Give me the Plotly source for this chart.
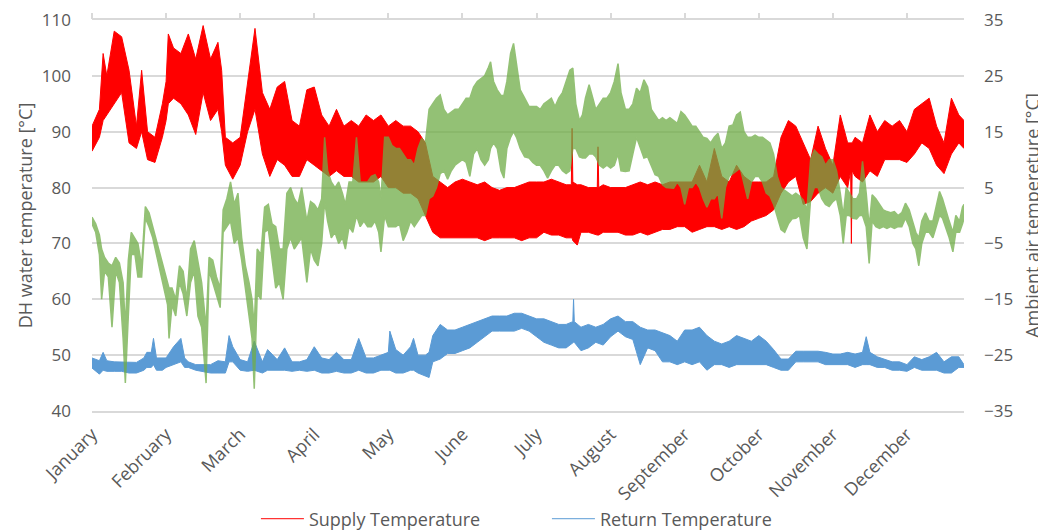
import plotly.graph_objects as go

months = ["January", "February", "March", "April", "May", "June", "July",
          "August", "September", "October", "November", "December"]
month_pos = list(range(12))
x_end = 11.77

# Supply temperature (left axis, degC): band read as upper / lower envelope
supply_x = [0.0, 0.1, 0.15, 0.2, 0.3, 0.4, 0.5, 0.6, 0.67, 0.75, 0.85, 0.95,
            1.0, 1.03, 1.1, 1.2, 1.3, 1.4, 1.5, 1.6, 1.7, 1.75, 1.8, 1.9,
            2.0, 2.1, 2.2, 2.3, 2.4, 2.5, 2.6, 2.7, 2.8, 2.9,
            3.0, 3.1, 3.2, 3.3, 3.4, 3.5, 3.6, 3.7, 3.8, 3.9,
            4.0, 4.1, 4.2, 4.3, 4.4, 4.5, 4.6, 4.7, 4.8, 4.9,
            5.0, 5.1, 5.2, 5.3, 5.4, 5.5, 5.6, 5.7, 5.8, 5.9,
            6.0, 6.1, 6.2, 6.3, 6.4, 6.47, 6.48, 6.49, 6.55, 6.6, 6.7, 6.82, 6.83, 6.84, 6.9,
            7.0, 7.1, 7.2, 7.3, 7.4, 7.5, 7.6, 7.7, 7.8, 7.9,
            8.0, 8.1, 8.2, 8.3, 8.4, 8.5, 8.6, 8.7, 8.8, 8.9,
            9.0, 9.1, 9.2, 9.3, 9.4, 9.5, 9.6, 9.7, 9.8, 9.9,
            10.0, 10.1, 10.2, 10.24, 10.25, 10.26, 10.3, 10.4, 10.5, 10.6, 10.7, 10.8, 10.9,
            11.0, 11.1, 11.2, 11.3, 11.4, 11.5, 11.6, 11.7, 11.77]
supply_hi = [91, 94, 104, 100, 108, 107, 101, 91, 101, 90, 89, 95,
             99, 107.5, 105, 104, 107.5, 103, 109, 103, 106, 101, 89, 88,
             89, 99, 108.5, 97, 94, 98, 99, 92, 91, 97.5,
             98, 93, 91, 94, 91, 92, 91, 93, 92, 93,
             91, 92, 91, 91, 90, 88, 82, 81, 80, 81,
             81.5, 81, 80.5, 81, 80, 79.5, 80, 80, 80.5, 81,
             81, 81, 81.5, 81, 80.5, 80.5, 90.6, 81, 80.5, 80.5, 80, 80, 87.3, 80, 80.5,
             80, 80, 80, 80.5, 81, 80.5, 81, 80.5, 81, 81,
             81, 81, 84, 81, 87, 82, 81, 84, 82, 81,
             81, 81, 82, 89, 92, 91, 88, 85, 91, 87,
             84, 93, 88, 88, 88, 88, 89, 88, 93, 90, 92, 91, 92,
             90, 94, 95, 96, 91, 88, 96, 93, 92]
supply_lo = [86.5, 89, 92, 93, 95, 97, 88, 87, 90, 85, 84.5, 89,
             92, 95, 96, 95, 93, 89.5, 97, 92, 94, 90, 84, 81.5,
             84, 90, 94, 86, 82, 85, 84, 82, 82, 85,
             84, 83, 82, 83, 82, 82, 81, 81, 81, 82,
             80, 80, 79, 79, 78, 75, 72, 71, 71, 71,
             71, 71, 71, 70.5, 71, 71, 71, 71, 70.5, 71,
             71, 72, 71.5, 71.5, 71, 71, 71, 70.5, 69.7, 72, 72, 71.5, 71.5, 71.5, 72,
             72, 72, 71.5, 71.5, 72, 71.5, 72, 72.5, 72.5, 73,
             73, 72, 72.5, 73, 73, 72.5, 73, 72.5, 73, 74,
             74.5, 75, 76, 79, 81, 82, 77, 77.5, 79, 80,
             79, 82, 80, 83, 70, 83, 82, 81, 83, 82, 85, 85, 85,
             84.5, 86, 88, 87, 84, 82.5, 86, 88, 87]

# Return temperature (left axis, degC)
return_x = [0.0, 0.1, 0.15, 0.2, 0.3, 0.4, 0.5, 0.6, 0.7, 0.74, 0.8, 0.83, 0.87, 0.95,
            1.0, 1.1, 1.2, 1.25, 1.3, 1.4, 1.5, 1.6, 1.7, 1.8, 1.85, 1.9,
            2.0, 2.1, 2.19, 2.3, 2.37, 2.5, 2.6, 2.7, 2.8, 2.9,
            3.0, 3.1, 3.2, 3.3, 3.4, 3.5, 3.6, 3.7, 3.8, 3.9,
            4.0, 4.02, 4.1, 4.2, 4.3, 4.34, 4.4, 4.5, 4.55, 4.6, 4.7, 4.8, 4.9,
            5.0, 5.1, 5.2, 5.3, 5.4, 5.5, 5.6, 5.7, 5.8, 5.9,
            6.0, 6.1, 6.2, 6.3, 6.4, 6.49, 6.5, 6.51, 6.6, 6.7, 6.8, 6.9,
            7.0, 7.1, 7.2, 7.3, 7.4, 7.5, 7.6, 7.7, 7.8, 7.9,
            8.0, 8.1, 8.2, 8.3, 8.4, 8.5, 8.6, 8.7, 8.8, 8.9,
            9.0, 9.1, 9.2, 9.3, 9.4, 9.5, 9.6, 9.7, 9.8, 9.9,
            10.0, 10.1, 10.2, 10.3, 10.4, 10.45, 10.5, 10.6, 10.7, 10.8, 10.9,
            11.0, 11.1, 11.2, 11.3, 11.4, 11.5, 11.6, 11.7, 11.77]
return_hi = [49.5, 49, 50.5, 49, 48.8, 48.8, 48.7, 48.7, 49.5, 50.5, 50.5, 53, 49.5, 49.5,
             49.5, 51.5, 53, 49.5, 48.8, 48.3, 48.3, 48.3, 49, 48.8, 53.5, 51.5,
             49.2, 48.8, 52.5, 48.8, 51, 49.2, 51.3, 48.8, 48.8, 49.2,
             51.5, 49.5, 49.2, 50.5, 49.2, 49.2, 53, 49.5, 49.5, 50,
             50.5, 54.3, 51, 50, 51.5, 53, 50, 50, 50.5, 53.5, 55.5, 54.5, 54.5,
             55, 55.5, 56, 56.5, 57, 57, 57, 57.5, 57.5, 57,
             56.5, 56.5, 56, 55.5, 55.5, 56, 60, 56, 55, 55.5, 55, 55.5,
             56.5, 57, 56, 56, 55, 54.5, 54.5, 54, 53.5, 52.5,
             54.5, 54.5, 55, 53.5, 52.5, 52, 52.5, 53.5, 53, 52.5,
             53.5, 52.5, 51, 49.3, 49.3, 50.7, 50.7, 50.7, 50.7, 50.5,
             50.2, 50.2, 50.5, 50.2, 50.5, 53.3, 50.5, 49.7, 49.3, 48.8, 48.8,
             48.3, 49.7, 49.2, 49.7, 50.5, 48.8, 49.7, 49.7, 48.3]
return_lo = [47.7, 46.6, 47.3, 47.1, 47.1, 47.1, 46.8, 46.8, 47.3, 47.8, 47.8, 48.3, 47.3, 47.3,
             47.8, 48.3, 48.8, 47.8, 47.8, 47.3, 47.1, 46.8, 46.8, 46.8, 48.8, 48.8,
             47.3, 47.1, 47.3, 46.8, 47.3, 47.3, 47.3, 47.1, 47.3, 47.1,
             47.3, 46.8, 46.8, 47.1, 46.8, 46.8, 47.3, 46.8, 46.8, 47.3,
             47.3, 47.3, 46.8, 46.8, 47.3, 47.3, 46.8, 46.3, 46, 48.8, 49.3, 50.3, 50.3,
             50.8, 51.3, 52.3, 53.3, 54.3, 54.3, 54.3, 54.3, 54.8, 54.3,
             53.3, 52.3, 51.8, 51.3, 51.3, 52.3, 52.3, 52.3, 50.8, 51.3, 52.3, 51.8,
             53.3, 54.3, 53.3, 52.8, 48.3, 51.3, 50.8, 48.8, 48.8, 48.3,
             48.8, 48.3, 48.8, 47.3, 48.3, 48.3, 47.8, 48.3, 48.3, 48.3,
             48.3, 48.3, 47.8, 47.3, 47.3, 48.8, 48.8, 48.8, 48.8, 48.3,
             48.3, 48.3, 48.3, 47.8, 48.3, 48.3, 48.3, 47.8, 47.8, 47.3, 47.3,
             47.1, 47.8, 47.3, 47.3, 47.3, 46.8, 46.8, 47.8, 47.8]

# Ambient air temperature (right axis, degC)
ambient_x = [0.0, 0.05, 0.1, 0.13, 0.17, 0.22, 0.27, 0.32, 0.37, 0.42, 0.45, 0.49,
             0.53, 0.58, 0.62, 0.67, 0.72, 0.77, 0.82, 0.87, 0.92, 0.97,
             1.02, 1.04, 1.08, 1.13, 1.18, 1.23, 1.28, 1.33, 1.38, 1.43, 1.48, 1.54,
             1.58, 1.63, 1.68, 1.73, 1.77, 1.82, 1.87, 1.92, 1.97,
             2.02, 2.07, 2.12, 2.16, 2.19, 2.23, 2.28, 2.33, 2.38, 2.43, 2.48,
             2.53, 2.58, 2.63, 2.68, 2.73, 2.78, 2.83, 2.9, 2.95,
             3.0, 3.05, 3.1, 3.14, 3.18, 3.23, 3.28, 3.33, 3.38, 3.42, 3.47,
             3.52, 3.57, 3.62, 3.67, 3.72, 3.77, 3.82, 3.87, 3.9, 3.95,
             4.0, 4.05, 4.1, 4.15, 4.2, 4.25, 4.3, 4.35, 4.4, 4.45, 4.5,
             4.55, 4.6, 4.65, 4.7, 4.75, 4.8, 4.85, 4.9, 4.95,
             5.0, 5.05, 5.1, 5.15, 5.2, 5.25, 5.3, 5.35, 5.38, 5.42, 5.47,
             5.52, 5.56, 5.6, 5.65, 5.69, 5.73, 5.78, 5.84, 5.9, 5.95,
             6.0, 6.05, 6.1, 6.15, 6.2, 6.25, 6.3, 6.35, 6.4, 6.45, 6.49,
             6.53, 6.58, 6.62, 6.66, 6.71, 6.76, 6.8, 6.85, 6.9, 6.95,
             7.0, 7.05, 7.1, 7.14, 7.2, 7.25, 7.3, 7.35, 7.4, 7.45, 7.5,
             7.55, 7.6, 7.65, 7.7, 7.75, 7.8, 7.85, 7.9, 7.95,
             8.0, 8.05, 8.1, 8.15, 8.2, 8.25, 8.3, 8.35, 8.4, 8.45, 8.5,
             8.55, 8.6, 8.65, 8.7, 8.75, 8.8, 8.85, 8.9, 8.95,
             9.0, 9.05, 9.1, 9.15, 9.2, 9.25, 9.3, 9.35, 9.4, 9.45, 9.5,
             9.55, 9.6, 9.65, 9.7, 9.75, 9.8, 9.85, 9.9, 9.95,
             10.0, 10.05, 10.1, 10.14, 10.18, 10.22, 10.27, 10.32, 10.36, 10.4, 10.45,
             10.49, 10.53, 10.58, 10.63, 10.68, 10.73, 10.78, 10.83, 10.88, 10.93, 10.98,
             11.03, 11.08, 11.12, 11.16, 11.2, 11.25, 11.3, 11.35, 11.4, 11.44, 11.48,
             11.52, 11.57, 11.62, 11.66, 11.71, 11.75, 11.77]
ambient_hi = [-0.3, -1.5, -3.5, -6, -7.5, -8.5, -9, -7.5, -8.5, -12, -20, -8,
              -3, -4, -5, -9, 1.6, 0.5, -2, -4.5, -7, -9,
              -12, -13, -13, -15, -9, -10, -15, -6, -4.5, -8, -12, -20,
              -7.5, -8, -11, -13, 1, 3, 6, 2, 4,
              -4, -9, -12, -15, -20, -6, -7, 1.5, 2, -1.5, -2,
              -6, -6, 4, 5, 3, 2, 5, -1, 2.5,
              2, 1, 3, 14, 8, 6, 5, 6, 4, 2, 6,
              6, 14, 6, 6, 6, 7, 7.3, 6, 3, 14,
              14, 12.5, 12, 12, 11, 10, 10, 9, 12, 13.8, 13,
              19, 20, 21, 21.6, 19, 18, 18.5, 19, 19,
              20, 21, 21, 23, 24, 24.5, 25, 26.5, 27.5, 24, 22.5,
              21.5, 21.5, 24, 29, 30.8, 27, 22.5, 21, 19.5, 19.5,
              19.5, 19, 20, 20.5, 21, 19.5, 21, 22, 24, 26, 26.4,
              20, 17, 18, 21, 23.4, 21, 19, 20, 21, 21,
              22, 24, 27.2, 22, 19, 19, 20, 22.8, 22, 24.3, 23,
              19, 18, 17, 17.5, 17, 17.5, 17, 16.5, 18.6,
              18, 17, 16, 16, 15, 14, 13.8, 13, 14, 14.7, 12,
              13, 16, 16.2, 18, 18.5, 15, 14, 14, 14.4,
              14, 14, 13.5, 13, 11, 7, 5, 4.5, 4, 3.5, 4,
              3.5, 2.8, 1, 10, 11.7, 11, 10.5, 9, 10,
              10, 8, 4, 0, 5, 4, 3, 3, 4, 9.7, 4,
              -2, 3.7, 3, 2, 1, 0.7, 0.5, 0.7, 0, 0.5, 2.2,
              1, -1.5, -3, -4, -1, 0.5, -1, -1, 2, 4.3, 3,
              1, -1, -3, 0, -1, 1.5, 2]
ambient_lo = [-1.5, -3, -7, -15, -10, -11, -20, -10, -12, -22, -30, -18,
              -7, -7, -11, -11, -0.5, -2, -4, -6.5, -10, -13,
              -16, -22, -16, -18, -12, -14, -18, -12, -10, -18, -20, -30,
              -10, -12, -14, -16.5, -3, -2, -1, -5, -4,
              -8, -12, -18, -22, -31, -14, -15, -3, -2.5, -8, -13,
              -12, -15, -6, -4, -6, -5, -4, -12, -6,
              -8, -9, -5, 2.5, -1, -4, -3, -5, -4, -6, -2,
              -3, 0, -2, -1, -2, -2, -1, -3, -6.5, 0,
              -2, -2, -2, -1.5, -4.5, -3, -1, -2, -1, 0, 0,
              3, 3.5, 5, 7.5, 8, 6.5, 8, 9, 9.5,
              10, 9.5, 7, 11, 12, 10, 9, 10, 12, 13, 12,
              8, 6.7, 12, 14, 15, 14, 12, 10.5, 10.3, 9.5,
              9, 9, 8, 6.7, 8, 9, 9, 8, 7.5, 8, 12,
              12, 10.5, 10.3, 10.3, 11, 11, 10.5, 9, 8.5, 9,
              8.5, 9, 11, 8, 7.9, 8, 11, 14, 12, 10.3, 10.5,
              9, 7.3, 7, 5.5, 5, 5, 4.9, 6, 5,
              2, 5, 5, 6, 5, 3, 1.5, 3, 3, 4, -0.5,
              5, 7, 7.5, 8, 8.5, 6, 3, 6, 7,
              7, 6, 4, 3.5, 2, 0, -2.5, -3, -1.5, -0.6, -0.5,
              0, -4, -6, 3, 5, 5, 3, 2, 1.6,
              2.5, 3, 0, -5, 0, 0, -0.5, -0.6, 0, 0, -2,
              -8.6, -1, -2, -2.3, -2, -2.3, -2, -2.3, -2, -2, -0.5,
              -2, -5, -6, -9, -5, -3, -3, -4, -2, 0, -0.5,
              -2, -4, -6.5, -3, -3, -1.5, -0.5]

RED = "#FF0000"
BLUE = "#5B9BD5"
GREEN = "#70AD47"
GRID = "#D9D9D9"
TXT = "#595959"

fig = go.Figure()

# Supply band
fig.add_trace(go.Scatter(x=supply_x, y=supply_hi, mode="lines", name="Supply Temperature",
                         line=dict(color=RED, width=1), hoverinfo="skip"))
fig.add_trace(go.Scatter(x=supply_x, y=supply_lo, mode="lines", showlegend=False,
                         line=dict(color=RED, width=1), fill="tonexty", fillcolor=RED,
                         hoverinfo="skip"))
# Return band
fig.add_trace(go.Scatter(x=return_x, y=return_hi, mode="lines", name="Return Temperature",
                         line=dict(color=BLUE, width=1), hoverinfo="skip"))
fig.add_trace(go.Scatter(x=return_x, y=return_lo, mode="lines", showlegend=False,
                         line=dict(color=BLUE, width=1), fill="tonexty", fillcolor=BLUE,
                         hoverinfo="skip"))
# Ambient band (secondary axes, drawn on top, semi-transparent)
fig.add_trace(go.Scatter(x=ambient_x + ambient_x[::-1], y=ambient_hi + ambient_lo[::-1],
                         mode="lines", fill="toself", fillcolor=GREEN,
                         line=dict(color=GREEN, width=1.5), opacity=0.75,
                         showlegend=False, xaxis="x2", yaxis="y2", hoverinfo="skip"))

# The page body keeps its default 8px margin; the figure is offset by it.
fig.update_layout(
    width=1038, height=524,
    margin=dict(l=84, r=82, t=12, b=121, autoexpand=False),
    paper_bgcolor="white", plot_bgcolor="white",
    font=dict(family="Open Sans, sans-serif", size=17, color=TXT),
    xaxis=dict(range=[0, x_end], tickmode="array", tickvals=month_pos, ticktext=months,
               tickangle=-45, showgrid=False, zeroline=False, ticks="", automargin=False,
               showline=True, mirror=True, linecolor=GRID, linewidth=1.5,
               ticklabelstandoff=4, tickfont=dict(size=18, color=TXT)),
    xaxis2=dict(range=[0, x_end], overlaying="x", side="top", anchor="y2", automargin=False,
                tickmode="array", tickvals=month_pos, showticklabels=False,
                ticks="outside", ticklen=6, tickwidth=1.5, tickcolor=GRID,
                showgrid=False, zeroline=False, showline=False),
    yaxis=dict(range=[40, 110], tick0=40, dtick=10, showgrid=True, gridcolor=GRID, gridwidth=1.5,
               zeroline=False, ticks="", ticklabelstandoff=20, automargin=False,
               ticklabeloverflow="allow",
               title=dict(text="DH water temperature [°C]", font=dict(size=18, color=TXT), standoff=4),
               tickfont=dict(size=17, color=TXT)),
    yaxis2=dict(range=[-35, 35], tick0=-35, dtick=10, overlaying="y", side="right", anchor="x2",
                showgrid=False, zeroline=False, ticks="", ticklabelstandoff=19, automargin=False,
                ticklabeloverflow="allow",
                title=dict(text="Ambient air tempereture [°C]", font=dict(size=18, color=TXT), standoff=14),
                tickfont=dict(size=17, color=TXT)),
    showlegend=True,
    legend=dict(orientation="h", x=0.188, xanchor="left", yref="container", y=0.0248, yanchor="middle",
                font=dict(size=18, color=TXT), traceorder="normal", itemwidth=43,
                entrywidth=233, entrywidthmode="pixels"),
)

fig.write_html("out.html")
